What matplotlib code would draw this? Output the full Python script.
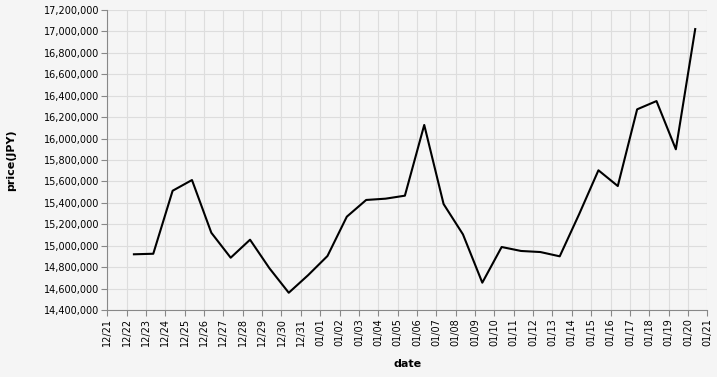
import numpy as np
import pandas as pd
import matplotlib
matplotlib.use("Agg")
import matplotlib.pyplot as plt
import matplotlib.dates as mdates
from matplotlib.ticker import FuncFormatter, MultipleLocator

# daily price readings (taken around 09:00)
dates = pd.date_range("2020-12-22 09:00", "2021-01-20 09:00", freq="D")
prices = [14920000, 14925000, 15513000, 15613000, 15121000, 14888000,
          15056000, 14790000, 14561000, 14725000, 14904000, 15271000,
          15427000, 15439000, 15467000, 16127000, 15389000, 15106000,
          14655000, 14988000, 14951000, 14941000, 14901000, 15293000,
          15704000, 15557000, 16273000, 16350000, 15900000, 17022000]

bg = "#f5f5f5"
fig = plt.figure(figsize=(7.17, 3.77), dpi=100, facecolor=bg)
ax = fig.add_axes([107.3 / 717, 1 - 310 / 377, 600 / 717, 300 / 377])
ax.set_facecolor(bg)

ax.plot(dates, prices, color="black", linewidth=1.5)

ax.set_xlim(pd.Timestamp("2020-12-21"), pd.Timestamp("2021-01-21"))
ax.set_ylim(14400000, 17200000)
ax.xaxis.set_major_locator(mdates.DayLocator())
ax.xaxis.set_major_formatter(mdates.DateFormatter("%m/%d"))
ax.yaxis.set_major_locator(MultipleLocator(200000))
ax.yaxis.set_major_formatter(FuncFormatter(lambda v, p: f"{int(v):,}"))

ax.grid(True, color="#dddddd", linewidth=0.8)
ax.set_axisbelow(True)
for s in ["top", "right"]:
    ax.spines[s].set_visible(False)
for s in ["left", "bottom"]:
    ax.spines[s].set_color("#888888")
    ax.spines[s].set_linewidth(0.8)
ax.tick_params(colors="#888888", labelcolor="black", labelsize=7, length=4, width=0.8, pad=2)
plt.setp(ax.get_xticklabels(), rotation=90)

ax.set_xlabel("date", fontsize=8, fontweight="bold", labelpad=9)
ax.set_ylabel("price(JPY)", fontsize=8, fontweight="bold", labelpad=20)

fig.savefig("out.png", dpi=100, facecolor=bg)
